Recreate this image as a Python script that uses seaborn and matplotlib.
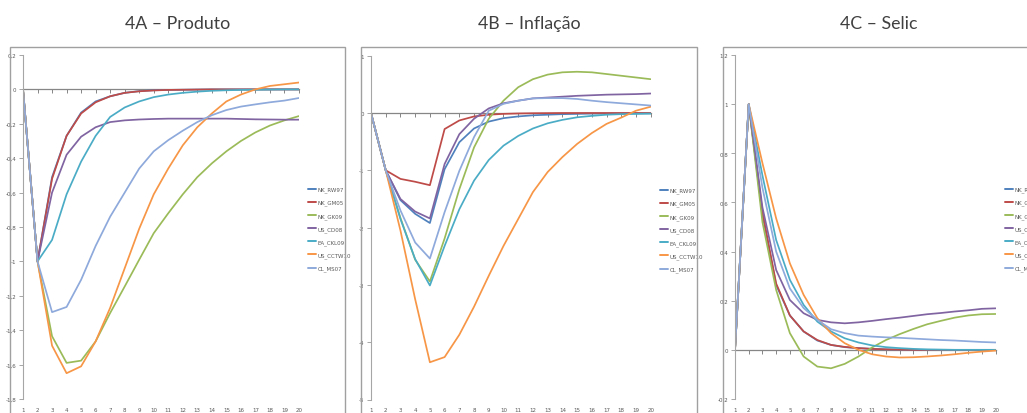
import numpy as np
import pandas as pd
import seaborn as sns
import matplotlib.pyplot as plt
from matplotlib.patches import Rectangle
from matplotlib.ticker import FuncFormatter

# horizons
periods = list(range(1, 21))
models = ['NK_RW97', 'NK_GM05', 'NK_GK09', 'US_CD08', 'EA_CKL09', 'US_CCTW10', 'CL_MS07']
colors = ['#4F81BD', '#BE4B48', '#9BBB59', '#8064A2', '#4BACC6', '#F79646', '#8EA9DB']

# 4A - Produto
prod_rw97 = [0, -1, -0.51, -0.27, -0.135, -0.07, -0.04, -0.02, -0.01, -0.005, -0.003, -0.002, -0.001, 0, 0, 0, 0, 0, 0, 0]
prod_gm05 = [0, -1, -0.52, -0.27, -0.14, -0.075, -0.04, -0.02, -0.011, -0.006, -0.003, -0.002, -0.001, 0, 0, 0, 0, 0, 0, 0]
prod_gk09 = [0, -1, -1.435, -1.59, -1.577, -1.465, -1.30, -1.146, -0.99, -0.836, -0.72, -0.61, -0.51, -0.43, -0.36, -0.30, -0.25, -0.21, -0.18, -0.155]
prod_cd08 = [0, -1, -0.60, -0.38, -0.275, -0.22, -0.19, -0.18, -0.175, -0.172, -0.17, -0.17, -0.17, -0.17, -0.17, -0.172, -0.174, -0.175, -0.176, -0.176]
prod_ckl09 = [0, -1, -0.875, -0.61, -0.42, -0.27, -0.16, -0.105, -0.07, -0.045, -0.03, -0.02, -0.013, -0.008, -0.005, -0.003, -0.002, -0.001, 0, 0]
prod_cctw10 = [0, -1, -1.49, -1.65, -1.61, -1.465, -1.27, -1.04, -0.81, -0.61, -0.46, -0.325, -0.22, -0.14, -0.07, -0.03, 0.0, 0.02, 0.03, 0.04]
prod_ms07 = [0, -1, -1.295, -1.265, -1.107, -0.91, -0.74, -0.60, -0.46, -0.36, -0.295, -0.24, -0.19, -0.15, -0.12, -0.10, -0.087, -0.075, -0.065, -0.05]

# 4B - Inflacao
inf_rw97 = [0, -1, -1.52, -1.76, -1.92, -0.98, -0.51, -0.27, -0.15, -0.09, -0.06, -0.04, -0.03, -0.02, -0.015, -0.01, -0.01, -0.008, -0.006, -0.005]
inf_gm05 = [0, -1, -1.15, -1.20, -1.26, -0.28, -0.13, -0.06, -0.03, -0.015, -0.008, -0.004, -0.002, 0, 0, 0, 0, 0, 0, 0]
inf_gk09 = [0, -1, -1.83, -2.56, -2.94, -2.19, -1.33, -0.60, -0.10, 0.215, 0.45, 0.59, 0.67, 0.71, 0.72, 0.71, 0.68, 0.65, 0.62, 0.59]
inf_cd08 = [0, -1, -1.50, -1.72, -1.84, -0.89, -0.37, -0.10, 0.08, 0.17, 0.215, 0.255, 0.27, 0.285, 0.30, 0.31, 0.32, 0.325, 0.33, 0.34]
inf_ckl09 = [0, -1, -1.85, -2.55, -3.01, -2.32, -1.68, -1.18, -0.82, -0.57, -0.40, -0.27, -0.18, -0.12, -0.075, -0.05, -0.03, -0.02, -0.015, -0.01]
inf_cctw10 = [0, -1, -2.05, -3.25, -4.35, -4.26, -3.87, -3.38, -2.84, -2.32, -1.85, -1.38, -1.03, -0.77, -0.54, -0.35, -0.19, -0.08, 0.04, 0.11]
inf_ms07 = [0, -1, -1.70, -2.26, -2.54, -1.73, -1.01, -0.42, 0.04, 0.16, 0.215, 0.255, 0.26, 0.26, 0.245, 0.215, 0.19, 0.17, 0.15, 0.13]

# 4C - Selic
sel_rw97 = [0, 1, 0.55, 0.264, 0.14, 0.075, 0.038, 0.02, 0.011, 0.007, 0.004, 0.002, 0.001, 0, 0, 0, 0, 0, 0, 0]
sel_gm05 = [0, 1, 0.56, 0.27, 0.14, 0.075, 0.04, 0.02, 0.012, 0.007, 0.004, 0.002, 0.001, 0, 0, 0, 0, 0, 0, 0]
sel_gk09 = [0, 1, 0.52, 0.244, 0.068, -0.027, -0.068, -0.075, -0.057, -0.027, 0.01, 0.04, 0.064, 0.085, 0.104, 0.118, 0.131, 0.14, 0.145, 0.146]
sel_cd08 = [0, 1, 0.58, 0.325, 0.203, 0.149, 0.122, 0.112, 0.108, 0.112, 0.118, 0.125, 0.131, 0.138, 0.145, 0.15, 0.156, 0.161, 0.167, 0.169]
sel_ckl09 = [0, 1, 0.71, 0.447, 0.285, 0.183, 0.115, 0.075, 0.047, 0.03, 0.018, 0.011, 0.007, 0.004, 0.002, 0.001, 0, 0, 0, 0]
sel_cctw10 = [0, 1, 0.76, 0.535, 0.352, 0.224, 0.129, 0.068, 0.027, 0.0, -0.018, -0.027, -0.031, -0.03, -0.027, -0.023, -0.018, -0.012, -0.007, -0.003]
sel_ms07 = [0, 1, 0.66, 0.40, 0.25, 0.17, 0.122, 0.084, 0.068, 0.058, 0.054, 0.051, 0.049, 0.046, 0.043, 0.04, 0.038, 0.035, 0.032, 0.03]

titles = ['4A \u2013 Produto', '4B \u2013 Infla\u00e7\u00e3o', '4C \u2013 Selic']

panels = [
    [prod_rw97, prod_gm05, prod_gk09, prod_cd08, prod_ckl09, prod_cctw10, prod_ms07],
    [inf_rw97, inf_gm05, inf_gk09, inf_cd08, inf_ckl09, inf_cctw10, inf_ms07],
    [sel_rw97, sel_gm05, sel_gk09, sel_cd08, sel_ckl09, sel_cctw10, sel_ms07],
]
ylims = [(-1.8, 0.2), (-5, 1), (-0.2, 1.2)]
yticks = [np.arange(-1.8, 0.21, 0.2), np.arange(-5, 1.1, 1), np.arange(-0.2, 1.21, 0.2)]

sns.set_style('white')
plt.rcParams['font.family'] = ['DejaVu Sans']

W, H = 1027, 414
fig = plt.figure(figsize=(W / 100, H / 100), dpi=100)

# layout in pixels: frame box, plot area, legend anchor
frames = [(10, 47.5, 344.5), (361, 47.5, 696.7), (722.7, 47.5, 1034)]
areas = [(23, 299, 56, 400), (371, 650.7, 56.7, 400.5), (735, 995.7, 56, 400)]
legend_pos = [(308, 187.5), (660, 188.5), (1005, 187.5)]

def fx(px):
    return px / W

def fy(py):
    return 1 - py / H

def fmt_comma(v, pos):
    v = round(v, 2)
    if abs(v) < 1e-9:
        return '0'
    return ('%g' % v).replace('.', ',')

axis_gray = '#a6a6a6'
text_gray = '#595959'

for i in range(3):
    x0, y0, x1 = frames[i]
    fig.patches.append(Rectangle((fx(x0), -0.1), fx(x1) - fx(x0), fy(y0) + 0.1,
                                 transform=fig.transFigure, fill=False,
                                 ec='#a0a0a0', lw=1.0, zorder=0))

    l, r, t, b = areas[i]
    ax = fig.add_axes([fx(l), fy(b), fx(r) - fx(l), fy(t) - fy(b)])
    ax.patch.set_alpha(0)

    df = pd.DataFrame({
        'periodo': periods * len(models),
        'valor': np.concatenate(panels[i]),
        'modelo': np.repeat(models, len(periods)),
    })
    sns.lineplot(data=df, x='periodo', y='valor', hue='modelo', hue_order=models,
                 palette=colors, estimator=None, lw=1.25, ax=ax)

    ax.set_xlim(1, 20)
    ax.set_ylim(*ylims[i])
    ax.set_xlabel('')
    ax.set_ylabel('')

    # y axis like excel
    ax.set_yticks(yticks[i])
    ax.yaxis.set_major_formatter(FuncFormatter(fmt_comma))
    ax.tick_params(axis='y', direction='out', length=3, width=0.7, color=axis_gray,
                   labelsize=4, labelcolor=text_gray, pad=2, left=True)
    for s in ['top', 'right']:
        ax.spines[s].set_visible(False)
    ax.spines['left'].set_color(axis_gray)
    ax.spines['left'].set_linewidth(0.8)

    # category axis crossing at zero
    ax.spines['bottom'].set_position(('data', 0))
    ax.spines['bottom'].set_color('#868686')
    ax.spines['bottom'].set_linewidth(0.9)
    ax.spines['bottom'].set_zorder(1)
    ax.set_xticks(periods)
    ax.tick_params(axis='x', direction='out', length=3, width=0.7, color='#868686',
                   labelbottom=False, bottom=True)

    sec = ax.secondary_xaxis(0)
    sec.set_xticks(periods)
    sec.spines['bottom'].set_visible(False)
    sec.tick_params(length=0, labelsize=4, labelcolor=text_gray, pad=5.5)

    lx, ly = legend_pos[i]
    sns.move_legend(ax, 'upper left', bbox_to_anchor=(fx(lx), fy(ly)),
                    bbox_transform=fig.transFigure, frameon=False, title=None,
                    fontsize=4, handlelength=1.45, handletextpad=0.25,
                    labelspacing=1.35, borderpad=0, borderaxespad=0)
    for t_ in ax.get_legend().get_texts():
        t_.set_color(text_gray)
    for h in ax.get_legend().get_lines():
        h.set_linewidth(1.4)

    fig.text(fx((x0 + x1) / 2), fy(29), titles[i], ha='center', va='baseline',
             fontsize=12.8, color='#404040', family=['Lato', 'DejaVu Sans'])

fig.savefig('out.png', dpi=100)
